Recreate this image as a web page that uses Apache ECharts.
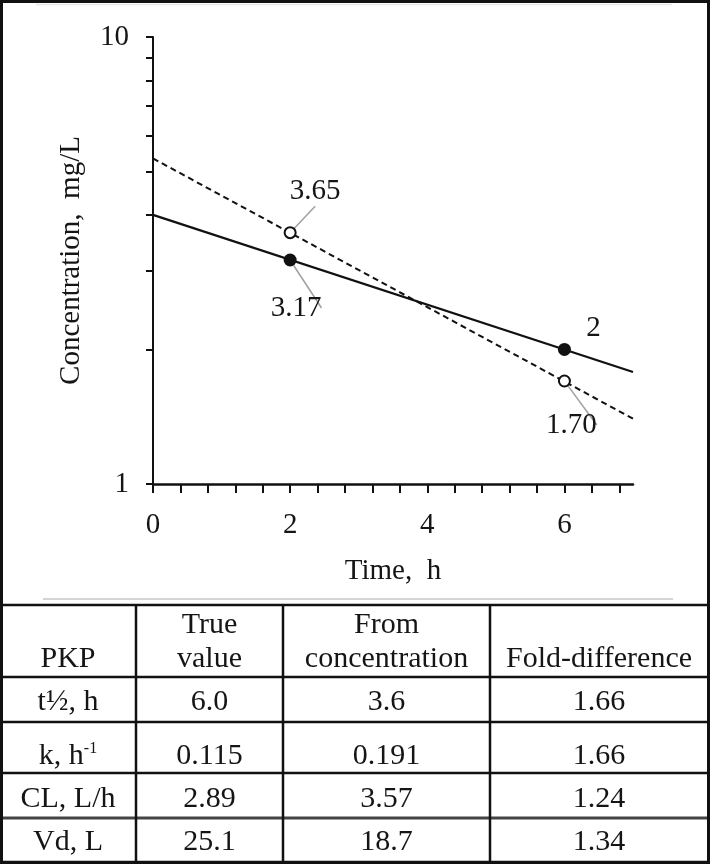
<!DOCTYPE html>
<html>
<head>
<meta charset="utf-8">
<script src="https://cdn.jsdelivr.net/npm/echarts@6/dist/echarts.min.js"></script>
<style>
html,body{margin:0;padding:0;background:#fff;}
#c{width:710px;height:864px;}
</style>
</head>
<body>
<div id="c"></div>
<script>
// ---- chart data ----
const xLabelTicks = [0, 2, 4, 6];
const xAllTicks = [0, 0.4, 0.8, 1.2, 1.6, 2, 2.4, 2.8, 3.2, 3.6, 4, 4.4, 4.8, 5.2, 5.6, 6, 6.4, 6.8];
const yLabelTicks = [1, 10];
const yAllTicks = [1, 2, 3, 4, 5, 6, 7, 8, 9, 10];

// true-value fit (solid) and fit from concentration (dashed), read at t=0 and t=7
const solidFit = [[0, 4.0], [7, 1.78]];
const dashedFit = [[0, 5.35], [7, 1.40]];

// filled points (true) and open points (from concentration)
const filledTimes = [2, 6];
const filledConc = [3.17, 2];
const filledLabels = ['3.17', '2'];
const openTimes = [2, 6];
const openConc = [3.65, 1.70];
const openLabels = ['3.65', '1.70'];

// ---- table data ----
const tableHeaders = ['PKP', 'True\nvalue', 'From\nconcentration', 'Fold-difference'];
const rowNames = ['t½, h', 'k, h{sup|-1}', 'CL, L/h', 'Vd, L'];
const trueValues = ['6.0', '0.115', '2.89', '25.1'];
const fromConcentration = ['3.6', '0.191', '3.57', '18.7'];
const foldDifference = ['1.66', '1.66', '1.24', '1.34'];

// ---- styling ----
const FONT = "'Liberation Serif', 'Times New Roman', serif";
const TXT = '#151515';
const filledOffsets = [[6, 48], [29, -21]];
const filledLeader = [true, false];
const openOffsets = [[25, -41], [7, 44]];
const openLeader = [true, true];

const chart = echarts.init(document.getElementById('c'), null, {renderer: 'canvas'});

function pointData(times, conc, labels, offsets, leaders) {
  return times.map((t, i) => ({
    value: [t, conc[i]],
    label: {show: true, formatter: labels[i], offset: offsets[i]},
    labelLine: {show: leaders[i]}
  }));
}

// table geometry
const colX = [1, 136, 283, 490, 708];
const rowY = [605, 677, 722, 773, 818, 862];
const rowTextY = [702, 756, 799, 842];

const graphics = [];
// outer frame
graphics.push({type: 'rect', shape: {x: 1.5, y: 1.5, width: 707, height: 861}, style: {fill: 'none', stroke: '#111', lineWidth: 3}, z: 10});
// faint lines
graphics.push({type: 'line', shape: {x1: 36, y1: 4.5, x2: 672, y2: 4.5}, style: {stroke: '#e6e6e6', lineWidth: 1.5}});
graphics.push({type: 'line', shape: {x1: 43, y1: 599, x2: 673, y2: 599}, style: {stroke: '#d4d4d4', lineWidth: 2}});
// horizontal table lines
rowY.forEach((y, i) => {
  graphics.push({type: 'line', shape: {x1: 0, y1: y, x2: 710, y2: y},
    style: {stroke: i === 4 ? '#444' : '#111', lineWidth: i === 4 ? 3 : 2.5}, z: 9});
});
// vertical table lines
colX.slice(1, 4).forEach(x => {
  graphics.push({type: 'line', shape: {x1: x, y1: rowY[0], x2: x, y2: rowY[5]}, style: {stroke: '#111', lineWidth: 2.5}, z: 9});
});
const colCenter = [68, 209.5, 386.5, 599];
tableHeaders.forEach((h, i) => {
  graphics.push({type: 'text', x: colCenter[i], y: 676,
    style: {text: h, font: '30px ' + FONT, fill: TXT, align: 'center', verticalAlign: 'bottom', lineHeight: 34}});
});
const cols = [rowNames, trueValues, fromConcentration, foldDifference];
cols.forEach((col, ci) => {
  col.forEach((v, ri) => {
    graphics.push({type: 'text', x: colCenter[ci], y: rowTextY[ri],
      style: {text: v, font: '30px ' + FONT, fontSize: 30, fontFamily: FONT, fill: TXT, align: 'center', verticalAlign: 'middle', lineHeight: 30,
        rich: {sup: {fontSize: 16, fontFamily: FONT, fill: TXT, lineHeight: 16, verticalAlign: 'top'}}}});
  });
});

const option = {
  animation: false,
  backgroundColor: '#fff',
  grid: {left: 153, right: 77, top: 37, bottom: 380, containLabel: false},
  xAxis: {
    type: 'value', min: 0, max: 7,
    name: 'Time,  h', nameLocation: 'middle', nameGap: 73,
    nameTextStyle: {fontFamily: FONT, fontSize: 29, color: TXT},
    axisLine: {show: true, onZero: false, lineStyle: {color: '#111', width: 2.5}},
    axisTick: {show: true, inside: false, length: 9, lineStyle: {color: '#111', width: 2}, customValues: xAllTicks},
    axisLabel: {margin: 27, fontFamily: FONT, fontSize: 29, color: TXT, customValues: xLabelTicks},
    splitLine: {show: false}
  },
  yAxis: {
    type: 'log', logBase: 10, min: 1, max: 10,
    name: 'Concentration,  mg/L', nameLocation: 'middle', nameGap: 67, nameRotate: 90,
    nameTextStyle: {fontFamily: FONT, fontSize: 29, color: TXT},
    axisLine: {show: true, onZero: false, lineStyle: {color: '#111', width: 2}},
    axisTick: {show: true, inside: false, length: 7, lineStyle: {color: '#111', width: 2}, customValues: yAllTicks},
    axisLabel: {margin: 24, fontFamily: FONT, fontSize: 29, color: TXT, customValues: yLabelTicks},
    splitLine: {show: false},
    minorTick: {show: false}
  },
  graphic: graphics,
  series: [
    {
      type: 'line', data: dashedFit, symbol: 'none', silent: true,
      lineStyle: {color: '#111', width: 2, type: [6, 4]}, z: 2
    },
    {
      type: 'line', data: solidFit, symbol: 'none', silent: true,
      lineStyle: {color: '#111', width: 2.2}, z: 3
    },
    {
      type: 'scatter', symbol: 'circle', symbolSize: 11, z: 5,
      itemStyle: {color: '#fff', borderColor: '#111', borderWidth: 2, opacity: 1},
      label: {position: 'inside', fontFamily: FONT, fontSize: 29, color: TXT},
      labelLine: {lineStyle: {color: '#a0a0a0', width: 1.5}},
      data: pointData(openTimes, openConc, openLabels, openOffsets, openLeader)
    },
    {
      type: 'scatter', symbol: 'circle', symbolSize: 13, z: 6,
      itemStyle: {color: '#111', opacity: 1},
      label: {position: 'inside', fontFamily: FONT, fontSize: 29, color: TXT},
      labelLine: {lineStyle: {color: '#a0a0a0', width: 1.5}},
      data: pointData(filledTimes, filledConc, filledLabels, filledOffsets, filledLeader)
    }
  ]
};
chart.setOption(option);
</script>
</body>
</html>
